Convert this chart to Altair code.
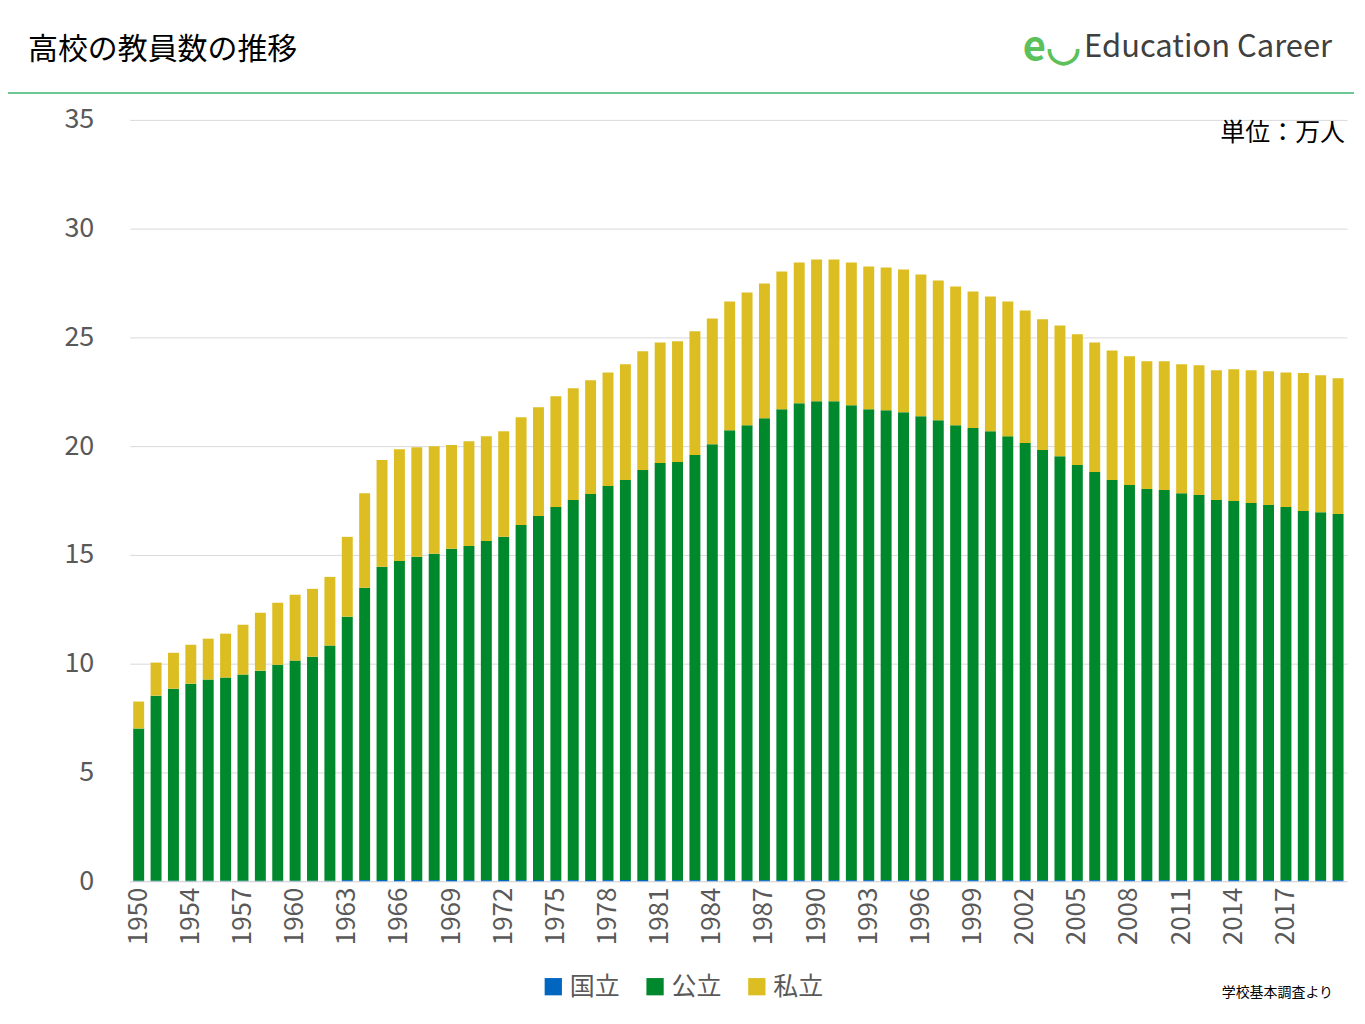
import altair as alt
import pandas as pd

years = ["1950"] + [str(y) for y in range(1952, 2021)]
national = [0.02] * 12 + [0.05] * 58
public_top = [7.02, 8.53, 8.85, 9.08, 9.27, 9.36, 9.5, 9.68, 9.95, 10.14, 10.32, 10.83,
              12.16, 13.49, 14.45, 14.72, 14.91, 15.05, 15.28, 15.41, 15.64, 15.83, 16.38,
              16.79, 17.2, 17.52, 17.8, 18.17, 18.44, 18.9, 19.22, 19.27, 19.59, 20.09,
              20.73, 20.96, 21.28, 21.7, 21.97, 22.06, 22.06, 21.88, 21.7, 21.65, 21.56,
              21.38, 21.19, 20.96, 20.83, 20.69, 20.46, 20.14, 19.82, 19.54, 19.13, 18.81,
              18.44, 18.21, 18.03, 17.98, 17.84, 17.75, 17.52, 17.48, 17.39, 17.29, 17.2,
              17.02, 16.96, 16.88]
total_top = [8.26, 10.05, 10.5, 10.87, 11.15, 11.38, 11.79, 12.34, 12.8, 13.17, 13.44, 13.99,
             15.83, 17.84, 19.36, 19.86, 19.95, 20.0, 20.05, 20.23, 20.46, 20.69, 21.33,
             21.79, 22.29, 22.66, 23.03, 23.39, 23.76, 24.36, 24.77, 24.82, 25.28, 25.87,
             26.65, 27.06, 27.48, 28.03, 28.44, 28.58, 28.58, 28.44, 28.26, 28.21, 28.12,
             27.89, 27.61, 27.34, 27.11, 26.88, 26.65, 26.24, 25.83, 25.55, 25.14, 24.77,
             24.4, 24.13, 23.9, 23.9, 23.76, 23.72, 23.49, 23.53, 23.49, 23.44, 23.39,
             23.36, 23.26, 23.12]
tick_years = years[:-1:3]

rows = []
for i, y in enumerate(years):
    rows.append({"year": y, "type": "国立", "o": 0, "v": national[i]})
    rows.append({"year": y, "type": "公立", "o": 1, "v": public_top[i] - national[i]})
    rows.append({"year": y, "type": "私立", "o": 2, "v": total_top[i] - public_top[i]})
df = pd.DataFrame(rows)

W, H = 1220, 763
font = "Noto Sans CJK JP"

bars = alt.Chart(df).mark_bar().encode(
    x=alt.X("year:N", sort=years, scale=alt.Scale(paddingInner=0.37, paddingOuter=0.2),
            axis=alt.Axis(title=None, values=tick_years, labelAngle=-90, labelFontSize=26,
                          labelColor="#595959", labelFont=font, ticks=False, domain=True,
                          domainColor="#d9d9d9", labelPadding=6)),
    y=alt.Y("v:Q", stack="zero", scale=alt.Scale(domain=[0, 35]),
            axis=alt.Axis(title=None, values=list(range(0, 36, 5)), labelFontSize=27,
                          labelColor="#595959", labelFont=font, ticks=False, domain=False,
                          gridColor="#d9d9d9", labelPadding=36)),
    color=alt.Color("type:N", sort=["国立", "公立", "私立"],
                    scale=alt.Scale(domain=["国立", "公立", "私立"],
                                    range=["#0066c0", "#00882d", "#dcbe22"]),
                    legend=alt.Legend(title=None, orient="none", legendX=412, legendY=856,
                                      direction="horizontal", symbolType="square",
                                      symbolSize=300, labelFontSize=25, labelColor="#595959",
                                      labelFont=font, columnPadding=22, symbolStrokeWidth=0)),
    order=alt.Order("o:Q"),
)

one = pd.DataFrame({"a": [0]})

def label(text, x, y, size, color="#000000", align="left", weight="normal"):
    return alt.Chart(one).mark_text(text=text, align=align, baseline="middle", fontSize=size,
                                    color=color, font=font, fontWeight=weight).encode(
        x=alt.value(x), y=alt.value(y))

title = label("高校の教員数の推移", -102, -70, 30)
logo_e = label("e◡", 895, -72, 40, color="#5cc15a", weight="bold")
logo = label("Education Career", 1205, -72, 31, color="#404040", align="right")
unit = label("単位：万人", 1218, 13, 25, align="right")
src = label("学校基本調査より", 1206, 994 - 119, 14, align="right")
line = alt.Chart(one).mark_rule(color="#3cb46e", strokeWidth=1.5).encode(
    x=alt.value(-122), x2=alt.value(1227), y=alt.value(-27))

chart = alt.layer(bars, title, logo_e, logo, unit, src, line).properties(
    width=W, height=H, autosize=alt.AutoSizeParams(type="none"),
    padding={"left": 122, "top": 111, "right": 10, "bottom": 140},
).configure_view(stroke=None)

chart.save("out.html", embed_options={"renderer": "svg", "actions": False})
